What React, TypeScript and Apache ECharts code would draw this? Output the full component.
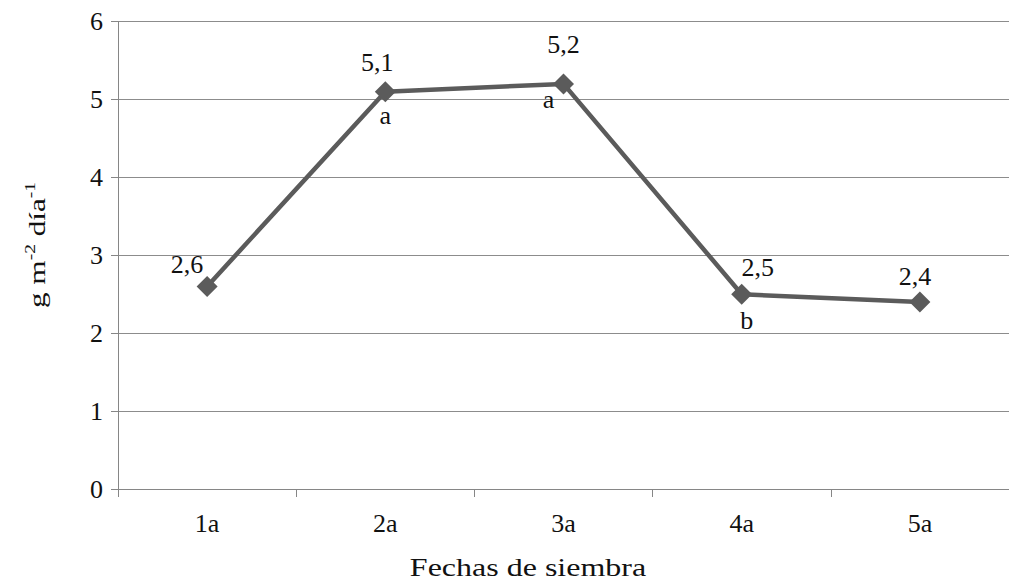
import React, { useEffect, useRef } from "react";
import * as echarts from "echarts";

const categories = ["1a", "2a", "3a", "4a", "5a"];
const values = [2.6, 5.1, 5.2, 2.5, 2.4];
const letters = ["", "a", "a", "b", ""];
const xTitle = "Fechas de siembra";

const valueLabelOffsets = [[-20, -22], [-8, -29], [0, -39], [16, -27], [-5, -26]];
const letterOffsets = [[0, 0], [0, 24], [-15, 16], [5, 26], [0, 0]];

const FONT = "Liberation Serif";

export default function App() {
  const ref = useRef<HTMLDivElement>(null);
  useEffect(() => {
    const chart = echarts.init(ref.current!, undefined, { renderer: "svg" });
    chart.setOption({
      animation: false,
      backgroundColor: "#ffffff",
      textStyle: { fontFamily: FONT },
      grid: { left: 118, top: 21.6, width: 898, height: 467.4 },
      xAxis: {
        type: "category",
        data: categories,
        boundaryGap: true,
        axisLine: { show: true, lineStyle: { color: "#868686", width: 1 } },
        axisTick: { show: true, length: 8, lineStyle: { color: "#868686" } },
        axisLabel: { fontFamily: FONT, fontSize: 26, color: "#111", margin: 21 },
        splitLine: { show: false },
      },
      yAxis: {
        type: "value",
        min: 0,
        max: 6,
        interval: 1,
        axisLine: { show: true, lineStyle: { color: "#868686", width: 1 } },
        axisTick: { show: true, length: 7, inside: false, lineStyle: { color: "#868686" } },
        axisLabel: { fontFamily: FONT, fontSize: 26, color: "#111", margin: 15 },
        splitLine: { show: true, lineStyle: { color: "#8c8c8c", width: 1 } },
      },
      series: [
        {
          type: "line",
          data: values.map((v, i) => ({ value: v, label: { offset: valueLabelOffsets[i] } })),
          symbol: "diamond",
          symbolSize: 21,
          lineStyle: { color: "#5b5b5b", width: 4.5 },
          itemStyle: { color: "#5b5b5b" },
          silent: true,
          label: {
            show: true,
            position: "inside",
            formatter: (p: any) => String(p.value).replace(".", ","),
            fontFamily: FONT,
            fontSize: 26,
            color: "#111",
            align: "center",
            verticalAlign: "middle",
          },
          z: 3,
        },
        {
          type: "line",
          data: values.map((v, i) => ({ value: v, label: { offset: letterOffsets[i] } })),
          symbol: "circle",
          symbolSize: 1,
          lineStyle: { width: 0, color: "rgba(0,0,0,0)" },
          itemStyle: { color: "rgba(0,0,0,0)" },
          silent: true,
          label: {
            show: true,
            position: "inside",
            formatter: (p: any) => letters[p.dataIndex],
            fontFamily: FONT,
            fontSize: 26,
            color: "#111",
            align: "center",
            verticalAlign: "middle",
          },
          z: 4,
        },
      ],
      graphic: [
        {
          type: "text",
          x: 528,
          y: 567,
          scaleX: 1.28,
          style: {
            text: xTitle,
            fontFamily: FONT,
            fontSize: 25,
            fill: "#111",
            align: "center",
            verticalAlign: "middle",
          },
        },
        {
          type: "text",
          x: 36,
          y: 245,
          rotation: Math.PI / 2,
          scaleX: 1.3,
          style: {
            text: "{a|g m}{s|-2}{a| día}{s|-1}",
            fill: "#111",
            align: "center",
            verticalAlign: "middle",
            rich: {
              a: { fontFamily: FONT, fontSize: 24, fill: "#111", verticalAlign: "bottom", lineHeight: 26 },
              s: { fontFamily: FONT, fontSize: 15, fill: "#111", verticalAlign: "top", lineHeight: 26 },
            },
          },
        },
      ],
    });
    return () => chart.dispose();
  }, []);
  return (
    <div
      ref={ref}
      style={{ position: "fixed", left: 0, top: 0, width: 1009, height: 584, background: "#fff" }}
    />
  );
}
